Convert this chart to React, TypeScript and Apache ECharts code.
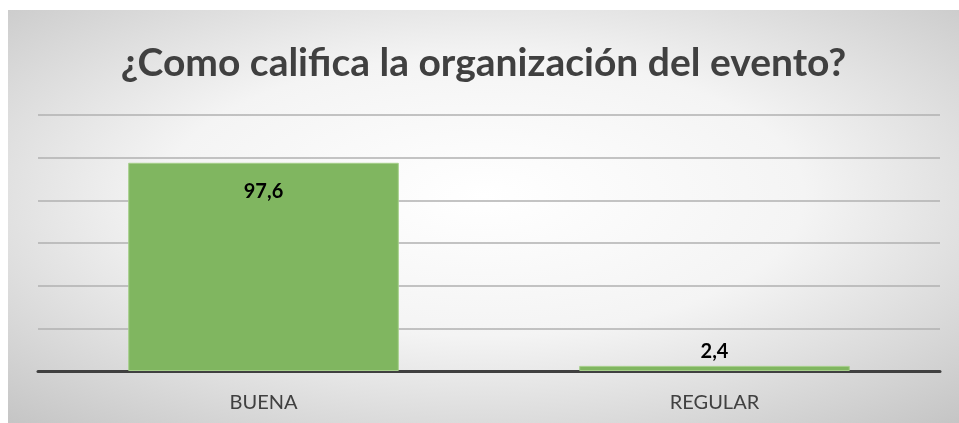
import React, { useEffect, useRef } from "react";
import * as echarts from "echarts";

const categories = ["BUENA", "REGULAR"];
const values = [97.6, 2.4];
const titleText = "¿Como califica la organización del evento?";

export default function App() {
  const ref = useRef<HTMLDivElement>(null);
  useEffect(() => {
    if (!ref.current) return;
    const chart = echarts.init(ref.current, null, { renderer: "svg" });
    chart.setOption({
      animation: false,
      backgroundColor: {
        type: "radial",
        x: 0.5,
        y: 0.45,
        r: 0.75,
        colorStops: [
          { offset: 0, color: "#ffffff" },
          { offset: 0.45, color: "#f4f4f4" },
          { offset: 1, color: "#c4c4c4" },
        ],
      },
      title: {
        text: titleText,
        left: "center",
        top: 26,
        textStyle: {
          fontFamily: "Lato",
          fontWeight: "bold",
          fontSize: 39,
          color: "#404040",
        },
      },
      grid: { left: 30, right: 19, top: 105, bottom: 52 },
      xAxis: {
        type: "category",
        data: categories,
        axisLine: { lineStyle: { color: "#404040", width: 3 } },
        axisTick: { show: false },
        axisLabel: {
          fontFamily: "Lato",
          fontSize: 20,
          color: "#404040",
          margin: 20,
        },
      },
      yAxis: {
        type: "value",
        min: 0,
        max: 120,
        interval: 20,
        axisLabel: { show: false },
        axisLine: { show: false },
        axisTick: { show: false },
        splitLine: { lineStyle: { color: "#b0b0b0", width: 1.5 } },
      },
      series: [
        {
          type: "bar",
          barCategoryGap: "40%",
          data: values.map((v, i) => ({
            value: v,
            label: {
              position: i === 0 ? "insideTop" : "top",
              distance: i === 0 ? 17 : 6,
            },
          })),
          itemStyle: {
            color: "#80b660",
            borderColor: "#a6cf8a",
            borderWidth: 1,
          },
          label: {
            show: true,
            fontFamily: "Lato",
            fontWeight: "bold",
            fontSize: 20,
            color: "#000000",
            formatter: (p: any) => String(p.value).replace(".", ","),
          },
        },
      ],
    });
    return () => chart.dispose();
  }, []);
  return (
    <div
      ref={ref}
      style={{ position: "fixed", left: 8, top: 10, width: 951, height: 413 }}
    />
  );
}
